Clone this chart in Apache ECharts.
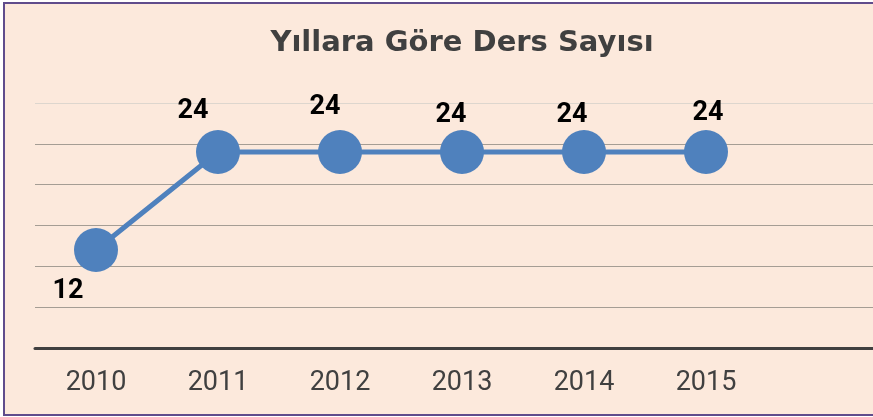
<!DOCTYPE html>
<html>
<head>
<meta charset="utf-8">
<title>Yıllara Göre Ders Sayısı</title>
<script src="https://cdn.jsdelivr.net/npm/echarts@6.0.0/dist/echarts.min.js"></script>
<style>
  html, body { margin: 0; padding: 0; background: #ffffff; overflow: hidden; }
  #frame {
    position: absolute; left: 3px; top: 2px;
    width: 914px; height: 410px;
    border: 2px solid #604c8c;
    background: #fce9dc;
  }
  #dersler { width: 914px; height: 410px; }
</style>
</head>
<body>
<div id="frame"><div id="dersler"></div></div>
<script>
const years = ["2010", "2011", "2012", "2013", "2014", "2015"];
const dersSayisi = [12, 24, 24, 24, 24, 24];
// labels were nudged by hand in the original, [dx, dy] from the marker centre
const labelShift = [[-28, 41], [-25, -41], [-15, -45], [-11, -37], [-12, -37], [2, -39]];

const blue = "#4f81bd";
const textDark = "#404040";

window.dersChart = echarts.init(document.getElementById("dersler"));
window.dersChart.setOption(getDersOptions());

function getDersOptions() {
  return {
    animation: false,
    title: {
      text: "Yıllara Göre Ders Sayısı",
      left: "center",
      top: 20,
      textStyle: {
        fontFamily: "DejaVu Sans",
        fontSize: 29,
        fontWeight: "bold",
        color: textDark,
      },
    },
    grid: { left: 30, right: 30, top: 99, bottom: 66 },
    xAxis: {
      type: "category",
      // one empty slot on the right, the plot area runs past the last year
      data: years.concat([""]),
      boundaryGap: true,
      axisLine: { lineStyle: { color: textDark, width: 3 } },
      axisTick: { show: false },
      axisLabel: {
        margin: 22,
        fontFamily: "Roboto",
        fontSize: 27,
        color: textDark,
      },
    },
    yAxis: {
      type: "value",
      min: 0,
      max: 30,
      interval: 5,
      axisLine: { show: false },
      axisTick: { show: false },
      axisLabel: { show: false },
      splitLine: {
        lineStyle: {
          color: ["#a59d94", "#a59d94", "#a59d94", "#a59d94", "#a59d94", "#a59d94", "#ddd6ce"],
          width: 1,
        },
      },
    },
    series: [
      {
        name: "Ders Sayısı",
        type: "line",
        data: dersSayisi.map((v, i) => ({
          value: v,
          label: { offset: labelShift[i] },
        })),
        symbol: "circle",
        symbolSize: 44,
        lineStyle: { color: blue, width: 5 },
        itemStyle: { color: blue },
        label: {
          show: true,
          position: "inside",
          fontFamily: "Roboto",
          fontSize: 27,
          fontWeight: "bold",
          color: "#000000",
        },
      },
    ],
  };
}
</script>
</body>
</html>
